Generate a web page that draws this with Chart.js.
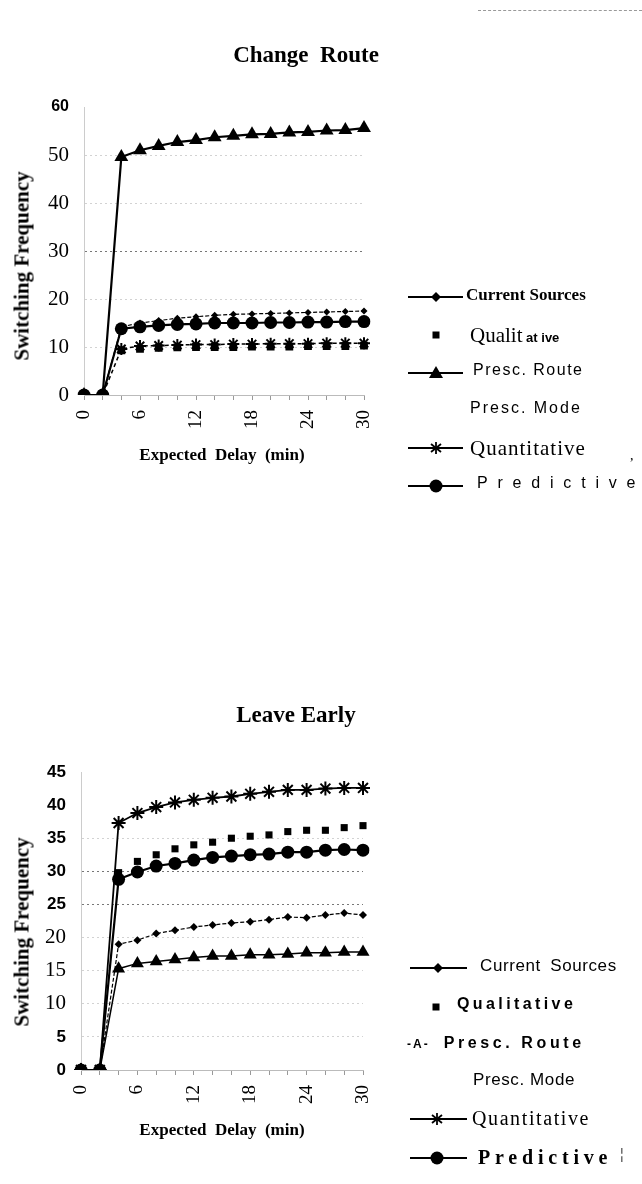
<!DOCTYPE html>
<html><head><meta charset="utf-8">
<script src="https://cdn.jsdelivr.net/npm/chart.js@4.4.1/dist/chart.umd.min.js"></script>
<style>
html,body{margin:0;padding:0;background:#fff;width:642px;height:1184px;overflow:hidden}
body{position:relative}
.abs{position:absolute;white-space:nowrap;color:#000;line-height:24px}
.box{position:absolute;left:0;width:642px}
.vt{position:absolute;white-space:nowrap;transform:translate(-50%,-50%) rotate(-90deg);font:bold 21px 'Liberation Serif',serif}
.ct{position:absolute;white-space:nowrap;transform:translate(-50%,-50%)}
</style></head><body>
<div class="box" style="top:0;height:480px"><canvas id="c1"></canvas></div>
<div class="box" style="top:660px;height:500px"><canvas id="c2"></canvas></div>
<div id="overlay"></div>
<script>
// ---------- DATA ----------
const delays = [0,2,4,6,8,10,12,14,16,18,20,22,24,26,28,30];
const seriesNames = ['Current Sources','Qualitative','Presc. Route','Presc. Mode','Quantitative','Predictive'];
const chartTitles = ['Change Route','Leave Early'];
const yAxisTitle = 'Switching Frequency';
const xAxisTitle = 'Expected Delay (min)';
// Change Route
const crCurrent     = [0,0,14.2,15.0,15.5,16.0,16.3,16.6,16.8,16.9,17.0,17.1,17.2,17.3,17.4,17.5];
const crQualitative = [0,0,9.3,9.6,9.8,9.9,10.0,10.0,10.0,10.1,10.1,10.1,10.2,10.2,10.2,10.3];
const crRoute       = [0,0,49.6,51.0,51.9,52.7,53.1,53.7,54.0,54.3,54.4,54.7,54.8,55.1,55.2,55.6];
const crMode        = [0,0,9.4,9.7,9.9,10.0,10.1,10.1,10.2,10.2,10.3,10.3,10.3,10.4,10.4,10.4];
const crQuant       = [0,0,9.6,10.2,10.3,10.4,10.5,10.5,10.6,10.6,10.7,10.7,10.7,10.8,10.8,10.8];
const crPred        = [0,0,13.8,14.2,14.5,14.7,14.8,15.0,15.0,15.0,15.1,15.1,15.2,15.2,15.3,15.3];
const crTicks = [0,10,20,30,40,50,60];
// Leave Early
const leCurrent     = [0,0,19.0,19.6,20.6,21.1,21.6,21.9,22.2,22.4,22.7,23.1,23.0,23.4,23.7,23.4];
const leQualitative = [0,0,29.8,31.5,32.5,33.4,34.0,34.4,35.0,35.3,35.5,36.0,36.2,36.2,36.6,36.9];
const leRoute       = [0,0,15.3,16.1,16.4,16.7,17.0,17.2,17.2,17.4,17.4,17.5,17.7,17.7,17.8,17.8];
const leMode        = [0,0,15.2,16.0,16.3,16.6,16.9,17.1,17.1,17.3,17.3,17.4,17.6,17.6,17.7,17.7];
const leQuant       = [0,0,37.3,38.8,39.7,40.4,40.8,41.1,41.3,41.7,42.0,42.3,42.3,42.5,42.6,42.6];
const lePred        = [0,0,28.8,29.9,30.8,31.2,31.7,32.1,32.3,32.5,32.6,32.9,32.9,33.2,33.3,33.2];
const leTicks = [0,5,10,15,20,25,30,35,40,45];

// ---------- STYLE ----------
const SERIF = "'Liberation Serif', 'Times New Roman', serif";
const SANS = "'Liberation Sans', Arial, sans-serif";

function makeDatasets(vals, big){
  const [cur, qual, route, mode, quant, pred] = vals;
  return [
    {label:seriesNames[0], data:cur, borderColor:'#000', backgroundColor:'#000', borderWidth:1.2, borderDash:[4,2],
     pointStyle:'rectRot', pointRadius: big?3.5:4, pointBorderWidth:0},
    {label:seriesNames[1], data:qual, showLine:false, borderColor:'#000', backgroundColor:'#000',
     pointStyle:'rect', pointRadius: big?5.5:5, pointBorderWidth:0},
    {label:seriesNames[2], data:route, borderColor:'#000', backgroundColor:'#000', borderWidth: big?2.2:1.5,
     pointStyle:'triangle', pointRadius: big?8:7.5, pointBorderWidth:0},
    {label:seriesNames[3], data:mode, borderColor:'rgba(0,0,0,0)', backgroundColor:'rgba(0,0,0,0)', borderWidth:1,
     pointRadius:0},
    {label:seriesNames[4], data:quant, borderColor:'#000', backgroundColor:'#000', borderWidth: big?1.5:1.8,
     borderDash: big?[4,3]:[], pointStyle:'star', pointRadius: big?6:7, pointBorderWidth:2},
    {label:seriesNames[5], data:pred, borderColor:'#000', backgroundColor:'#000', borderWidth:2.2,
     pointStyle:'circle', pointRadius:6.5, pointBorderWidth:0}
  ];
}

function makeChart(id, vals, big, yMax, pad, yW, tickFont, gridColor){
  new Chart(document.getElementById(id), {
    type:'line',
    data:{labels:delays.map(String), datasets:makeDatasets(vals, big)},
    options:{
      responsive:true, maintainAspectRatio:false, animation:false,
      layout:{padding:pad},
      plugins:{legend:{display:false}, tooltip:{enabled:false}, title:{display:false}},
      elements:{line:{tension:0}},
      scales:{
        x:{
          type:'category', offset:false,
          grid:{drawOnChartArea:false, drawTicks:true, tickLength:5, color:'#999', lineWidth:1},
          border:{display:true, color:'#bbb', width:1},
          ticks:{autoSkip:false, minRotation:90, maxRotation:90, padding:10, color:'#000',
            font:{family:SERIF, size:19},
            callback:(v,i)=> (i%3===0 ? delays[i] : '')},
          afterFit:s=>{s.height=70;}
        },
        y:{
          min:0, max:yMax,
          afterBuildTicks:s=>{s.ticks=(big?crTicks:leTicks).map(v=>({value:v}));},
          grid:{drawTicks:false, color:gridColor, lineWidth:1},
          border:{display:true, color:'#ccc', width:1, dash:[2,3]},
          ticks:{padding:15, color:'#000', font:tickFont},
          afterFit:s=>{s.width=yW;}
        }
      }
    }
  });
}

makeChart('c1', [crCurrent,crQualitative,crRoute,crMode,crQuant,crPred], true, 60,
  {left:0, top:107, right:278, bottom:15}, 84,
  ctx=> (ctx.tick && ctx.tick.value===60) ? {family:SANS, size:16, weight:'bold'} : {family:SERIF, size:21},
  ctx=> { const v = ctx.tick ? ctx.tick.value : 0; return v===30 ? '#777' : (v===0||v===60) ? 'rgba(0,0,0,0)' : '#d2d2d2'; });

makeChart('c2', [leCurrent,leQualitative,leRoute,leMode,leQuant,lePred], false, 45,
  {left:0, top:112, right:279, bottom:20}, 81,
  ctx=> { const v = ctx.tick ? ctx.tick.value : 0;
    return (v===10||v===15||v===20) ? {family:SERIF, size:21} : {family:SANS, size:17, weight:'bold'}; },
  ctx=> { const v = ctx.tick ? ctx.tick.value : 0; return (v===25||v===30) ? '#777' : (v===0||v===45||v===40) ? 'rgba(0,0,0,0)' : '#d2d2d2'; });

// ---------- TEXT & LEGENDS (HTML) ----------
const ov = document.getElementById('overlay');
function add(html){ ov.insertAdjacentHTML('beforeend', html); }

add(`<div class="ct" style="left:306px;top:55px;font:bold 23px ${SERIF}">Change&nbsp; Route</div>`);
add(`<div class="ct" style="left:296px;top:715px;font:bold 23px ${SERIF}">Leave Early</div>`);
add(`<div class="vt" style="left:22px;top:266px">${yAxisTitle}</div>`);
add(`<div class="vt" style="left:22px;top:932px">${yAxisTitle}</div>`);
add(`<div class="ct" style="left:222px;top:455px;font:bold 17px ${SERIF}">Expected&nbsp; Delay&nbsp; (min)</div>`);
add(`<div class="ct" style="left:222px;top:1130px;font:bold 17px ${SERIF}">Expected&nbsp; Delay&nbsp; (min)</div>`);
add(`<div style="position:absolute;left:478px;top:10px;width:164px;border-top:1px dashed #999"></div>`);

function marker(type, cx, cy){
  switch(type){
    case 'diamond': return `<polygon points="${cx},${cy-5} ${cx+5},${cy} ${cx},${cy+5} ${cx-5},${cy}" fill="#000"/>`;
    case 'square': return `<rect x="${cx-3.5}" y="${cy-3.5}" width="7" height="7" fill="#000"/>`;
    case 'triangle': return `<polygon points="${cx},${cy-7} ${cx+7},${cy+5} ${cx-7},${cy+5}" fill="#000"/>`;
    case 'star': return `<g stroke="#000" stroke-width="1.8"><line x1="${cx}" y1="${cy-6}" x2="${cx}" y2="${cy+6}"/><line x1="${cx-5}" y1="${cy-4}" x2="${cx+5}" y2="${cy+4}"/><line x1="${cx-5}" y1="${cy+4}" x2="${cx+5}" y2="${cy-4}"/><line x1="${cx-6}" y1="${cy}" x2="${cx+6}" y2="${cy}"/></g>`;
    case 'circle': return `<circle cx="${cx}" cy="${cy}" r="6.5" fill="#000"/>`;
  }
  return '';
}
function legendItem(y, sample, text){
  let svg = '';
  if (sample){
    const [x1,x2,mx,type,line] = sample;
    svg = `<svg style="position:absolute;left:0;top:${y-10}px" width="642" height="20">` +
      (line ? `<line x1="${x1}" y1="10" x2="${x2}" y2="10" stroke="#000" stroke-width="2"/>` : '') +
      marker(type, mx, 10) + `</svg>`;
  }
  add(svg + text);
}
const T = (x,y,style,html)=>`<div class="abs" style="left:${x}px;top:${y-12}px;${style}">${html}</div>`;

// Change Route legend
const L1 = [297,335,373,411,448,486];
legendItem(L1[0], [408,463,436,'diamond',true], T(466,L1[0],`font:bold 17px ${SERIF}`, seriesNames[0]));
legendItem(L1[1], [0,0,436,'square',false], T(470,L1[1],'', `<span style="font:21px ${SERIF}">Qualit</span><span style="font:bold 13px ${SANS}"> at ive</span>`));
legendItem(L1[2], [408,463,436,'triangle',true], T(473,L1[2],`font:16px ${SANS};letter-spacing:1.5px`, seriesNames[2]));
legendItem(L1[3], null, T(470,L1[3],`font:16px ${SANS};letter-spacing:2px`, seriesNames[3]));
legendItem(L1[4], [408,463,436,'star',true], T(470,L1[4],`font:21px ${SERIF};letter-spacing:1px`, seriesNames[4]));
legendItem(L1[5], [408,463,436,'circle',true], T(477,L1[5],`font:16px ${SANS};letter-spacing:9.8px`, seriesNames[5]));
add(`<div class="abs" style="left:630px;top:448px;font:14px ${SERIF}">,</div>`);

// Leave Early legend
const L2 = [968,1007,1046,1082,1119,1158];
legendItem(L2[0], [410,467,438,'diamond',true], T(480,L2[0],`font:17px ${SANS};letter-spacing:0.6px;word-spacing:4px`, seriesNames[0]));
legendItem(L2[1], [0,0,436,'square',false], T(457,L2[1],`font:bold 16px ${SANS};letter-spacing:3.4px`, seriesNames[1]));
legendItem(L2[2], null, T(407,L2[2],`font:bold 16px ${SANS};letter-spacing:3.6px`, `<span style="font-size:12px;letter-spacing:2px;margin-right:14px">-A-</span>${seriesNames[2]}`));
legendItem(L2[3], null, T(473,L2[3],`font:17px ${SANS};letter-spacing:0.6px`, seriesNames[3]));
legendItem(L2[4], [410,467,437,'star',true], T(472,L2[4],`font:20px ${SERIF};letter-spacing:1.6px`, seriesNames[4]));
legendItem(L2[5], [410,467,437,'circle',true], T(478,L2[5],`font:bold 20px ${SERIF};letter-spacing:4.8px`, seriesNames[5]));
add(`<div class="abs" style="left:620px;top:1146px;font:14px ${SANS};color:#444">¦</div>`);
</script>
</body></html>
